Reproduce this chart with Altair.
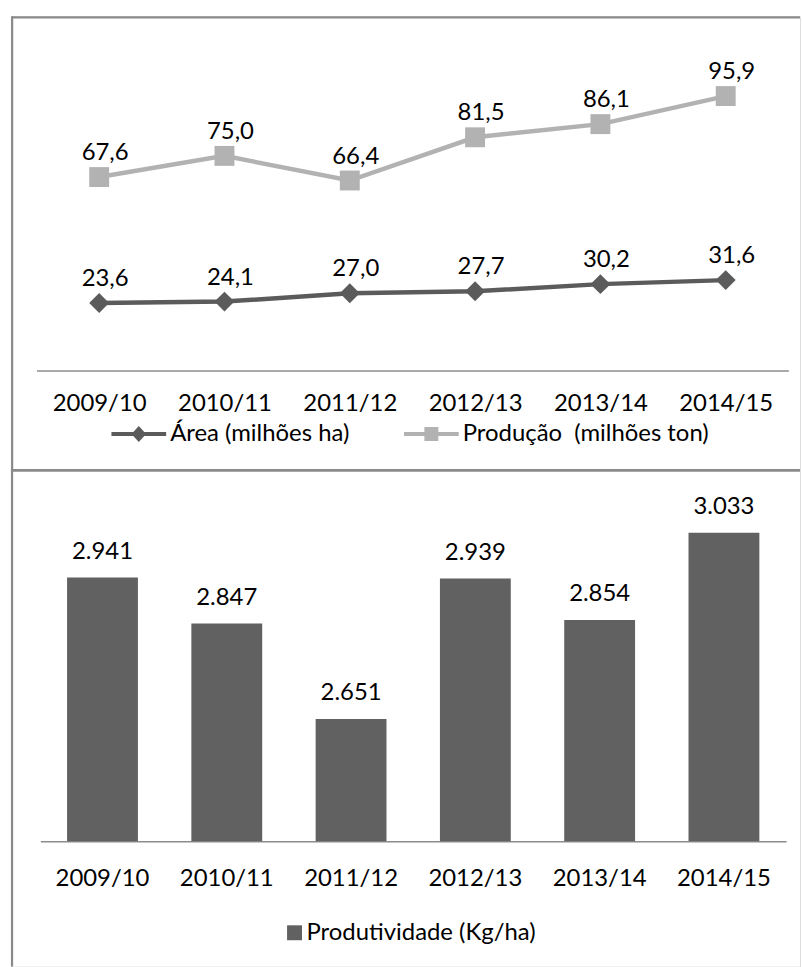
import altair as alt
import pandas as pd

categorias = ["2009/10", "2010/11", "2011/12", "2012/13", "2013/14", "2014/15"]
area = [23.6, 24.1, 27.0, 27.7, 30.2, 31.6]
producao = [67.6, 75.0, 66.4, 81.5, 86.1, 95.9]
produtividade = [2941, 2847, 2651, 2939, 2854, 3033]
serie_area = "Área (milhões ha)"
serie_prod = "Produção \u00a0(milhões ton)"
serie_produtiv = "Produtividade (Kg/ha)"

FONT = "Lato"
FS = 24
DARK = "#5b5b5b"
LIGHT = "#b2b2b2"
BAR = "#616161"
BORDER = "#8a8a8a"
AXIS = "#8c8c8c"


def fmt_dec(v):
    return f"{v:.1f}".replace(".", ",")


def fmt_mil(v):
    return f"{v:,}".replace(",", ".")


rows = []
for c, a, p in zip(categorias, area, producao):
    rows.append({"categoria": c, "serie": serie_area, "valor": a, "rotulo": fmt_dec(a)})
    rows.append({"categoria": c, "serie": serie_prod, "valor": p, "rotulo": fmt_dec(p)})
df_top = pd.DataFrame(rows)
df_bot = pd.DataFrame({
    "categoria": categorias,
    "valor": produtividade,
    "rotulo": [fmt_mil(v) for v in produtividade],
    "serie": [serie_produtiv] * len(categorias),
})

TOP_W, TOP_H = 793, 455
BOT_W, BOT_H = 793, 500

# legend symbols: a thick line with a marker in its middle
PATH_AREA = ("M-1,-0.073L-0.2,-0.073L0,-0.29L0.2,-0.073L1,-0.073L1,0.073"
             "L0.2,0.073L0,0.29L-0.2,0.073L-1,0.073Z")
PATH_PROD = ("M-1,-0.073L-0.255,-0.073L-0.255,-0.255L0.255,-0.255L0.255,-0.073L1,-0.073"
             "L1,0.073L0.255,0.073L0.255,0.255L-0.255,0.255L-0.255,0.073L-1,0.073Z")

axis_common = dict(title=None, orient="bottom", ticks=False, labelAngle=0,
                   labelFont=FONT, labelFontSize=FS, labelColor="#000",
                   labelBaseline="middle", domainColor=AXIS, domainWidth=1.5,
                   grid=False)

# ---------------- top panel ----------------
x_top = alt.X("categoria:N", sort=categorias,
              scale=alt.Scale(range=[25.7, 781.3]),
              axis=alt.Axis(offset=-99, labelPadding=33, **axis_common))
y_top = alt.Y("valor:Q", scale=alt.Scale(domain=[0, 120], range=[356, 10.8], nice=False),
              axis=None)
color_scale = alt.Scale(domain=[serie_area, serie_prod], range=[DARK, LIGHT])
shape_scale = alt.Scale(domain=[serie_area, serie_prod], range=[PATH_AREA, PATH_PROD])

legend_top = alt.Legend(
    title=None, orient="none", legendX=101, legendY=392, direction="horizontal",
    labelFont=FONT, labelFontSize=FS, labelColor="#000", labelOffset=4, labelLimit=0,
    columnPadding=54, symbolSize=3025, symbolOpacity=1, symbolStrokeWidth=0,
)

base_top = alt.Chart(df_top)
# invisible layer that carries the legend (line + marker symbols)
legend_layer = base_top.mark_point(filled=True, size=1, opacity=0).encode(
    x=x_top, y=y_top,
    color=alt.Color("serie:N", scale=color_scale, legend=legend_top),
    shape=alt.Shape("serie:N", scale=shape_scale, legend=legend_top),
)
lines = base_top.mark_line(strokeWidth=4.5).encode(
    x=x_top, y=y_top,
    color=alt.Color("serie:N", scale=color_scale, legend=None),
)
pts_area = base_top.transform_filter(alt.datum.serie == serie_area).mark_point(
    filled=True, size=400, opacity=1, shape="diamond").encode(
    x=x_top, y=y_top,
    color=alt.Color("serie:N", scale=color_scale, legend=None),
)
pts_prod = base_top.transform_filter(alt.datum.serie == serie_prod).mark_point(
    filled=True, size=400, opacity=1, shape="square").encode(
    x=x_top, y=y_top,
    color=alt.Color("serie:N", scale=color_scale, legend=None),
)
labels_top = base_top.mark_text(font=FONT, fontSize=FS, color="#000",
                                baseline="alphabetic", dy=-17, dx=6).encode(
    x=x_top, y=y_top, text="rotulo:N")

one = alt.Data(values=[{}])
b_top = alt.Chart(one).mark_rule(color=BORDER, strokeWidth=2.2).encode(
    x=alt.value(1.1), x2=alt.value(TOP_W), y=alt.value(1.1))
b_left1 = alt.Chart(one).mark_rule(color=BORDER, strokeWidth=2.2).encode(
    x=alt.value(1.2), y=alt.value(0), y2=alt.value(TOP_H))

top = alt.layer(legend_layer, b_top, b_left1, lines, pts_area, pts_prod,
                labels_top).properties(width=TOP_W, height=TOP_H)

# ---------------- bottom panel ----------------
x_bot = alt.X("categoria:N", sort=categorias,
              scale=alt.Scale(range=[29.55, 779.0], paddingInner=0.43, paddingOuter=0.215),
              axis=alt.Axis(offset=-126, labelPadding=37, **axis_common))
y_bot = alt.Y("valor:Q", scale=alt.Scale(domain=[2400, 3100], range=[374, 31.2],
                                         zero=False, nice=False), axis=None)

legend_bot = alt.Legend(
    title=None, orient="none", legendX=273, legendY=454, direction="horizontal",
    labelFont=FONT, labelFontSize=FS, labelColor="#000", labelOffset=0, labelLimit=0,
    symbolSize=225, symbolType="square", symbolStrokeWidth=0, symbolOpacity=1,
)

base_bot = alt.Chart(df_bot)
bars = base_bot.mark_bar().encode(
    x=x_bot, y=y_bot, y2=alt.datum(2400),
    color=alt.Color("serie:N", scale=alt.Scale(domain=[serie_produtiv], range=[BAR]),
                    legend=legend_bot),
)
labels_bot = base_bot.mark_text(font=FONT, fontSize=FS, color="#000",
                                baseline="alphabetic", dy=-19).encode(
    x=x_bot, y=y_bot, text="rotulo:N")

b_div = alt.Chart(one).mark_rule(color=BORDER, strokeWidth=3).encode(
    x=alt.value(0), x2=alt.value(BOT_W), y=alt.value(1.3))
b_left2 = alt.Chart(one).mark_rule(color=BORDER, strokeWidth=2.2).encode(
    x=alt.value(1.1), y=alt.value(0), y2=alt.value(BOT_H))

bottom = alt.layer(b_div, b_left2, bars, labels_bot).properties(
    width=BOT_W, height=BOT_H)

chart = alt.vconcat(top, bottom, spacing=0).resolve_scale(
    color="independent", shape="independent"
).resolve_legend(
    color="independent", shape="independent"
).properties(
    padding={"left": 9, "top": 12, "right": 0, "bottom": 0},
    bounds="flush",
).configure_view(stroke=None).configure(background="white")

chart.save("out.html", embed_options={"renderer": "svg", "actions": False})
